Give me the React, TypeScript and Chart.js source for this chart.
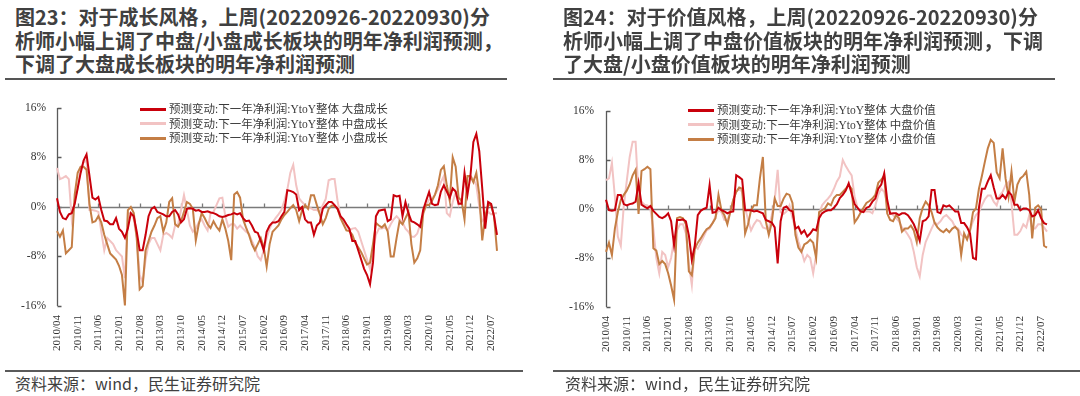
import React, { useEffect, useRef } from 'react';
import { Chart, registerables } from 'chart.js';

Chart.register(...registerables);

// ---------- categories (monthly, 2010/04 .. 2022/09) ----------
const START_YEAR = 2010;
const START_MONTH = 4;
const N_MONTHS = 150;
const MONTHS: string[] = [];
for (let i = 0; i < N_MONTHS; i++) {
  const t = START_MONTH - 1 + i;
  const y = START_YEAR + Math.floor(t / 12);
  const m = (t % 12) + 1;
  MONTHS.push(`${y}/${m < 10 ? '0' + m : m}`);
}

const TICK_LABELS = [
  '2010/04', '2010/11', '2011/06', '2012/01', '2012/08', '2013/03', '2013/10', '2014/05',
  '2014/12', '2015/07', '2016/02', '2016/09', '2017/04', '2017/11', '2018/06', '2019/01',
  '2019/08', '2020/03', '2020/10', '2021/05', '2021/12', '2022/07',
];
const Y_TICKS = [16, 8, 0, -8, -16];

// ---------- series (%) ----------
const growthLarge = [
  1.4, -0.8, -1.8, -2.0, -1.2, -1.0, 0.5, 3.0, 5.5, 7.5,
  8.5, 5.0, 1.5, 1.2, 1.6, -0.5, -2.2, -2.3, -2.8, -2.8,
  -1.8, -3.5, -4.0, -5.0, -3.5, -1.0, -1.5, -4.0, -7.0, -7.0,
  -4.5, -1.5, -0.3, 0.0, -0.8, -1.0, -1.2, -1.5, -1.5, -0.8,
  -0.5, -1.2, -2.5, -2.0, -0.3, -0.2, -0.3, -0.6, -0.5, -0.8,
  -0.8, -0.7, -0.9, -1.0, -1.2, -1.5, -1.6, -1.5, -1.3, -1.2,
  -1.0, -1.2, -1.0, -1.8, -2.3, -2.2, -3.0, -4.0, -4.2, -5.5,
  -7.0, -4.0, -3.0, -2.5, -2.5, -2.3, -1.5, -0.8, 2.7, 2.6,
  2.4, 2.0, -0.5, 0.0, -2.0, -2.5, -2.5, -4.5, -3.0, -2.5,
  -0.3, 0.3, 0.8, 0.8, 0.3, -0.3, -1.5, -2.0, -2.8, -3.5,
  -5.5, -5.5, -7.0, -8.5, -10.0, -11.0, -12.5, -9.0, -1.5, -0.6,
  -0.5, -0.4, -2.3, -2.0, 1.9, 1.7, 1.8, -1.5, 0.8, -1.0,
  -2.3, -2.5, -2.8, -3.2, -0.5, 1.0, 2.4, 0.5, 0.3, 0.4,
  2.5, 3.5, 2.5, 1.5, 3.0, 2.5, 0.5, 0.5, 5.5, 2.0,
  5.0, 10.5, 11.8, 9.0, 3.0, -3.5, 0.8, 0.5, -1.5, -4.5,
];
const growthMid = [
  6.3, 4.5, 4.7, 5.0, 4.5, -2.0, 1.0, 3.0, 6.0, 7.2,
  7.5, -0.5, -0.5, -0.6, -0.8, -4.0, -7.0, -5.0, -5.5, -6.0,
  -7.0, -7.5, -8.0, -11.5, -1.0, -1.0, -2.0, -5.0, -11.0, -12.2,
  -8.5, -6.0, -5.0, -5.0, -6.0, -7.0, -4.5, -4.2, -4.5, -5.0,
  -3.0, -2.8, -0.5, 1.9, -0.5, -3.0, -4.0, -3.5, -2.5, -2.0,
  -3.0, -3.8, -1.0, -0.8, 0.3, 1.4, 1.5, -1.5, -3.2, -2.8,
  -2.8, -3.5, -3.0, -3.5, -4.0, -4.3, -5.5, -6.5, -8.0, -8.6,
  -7.0, -5.0, -3.5, -2.5, -1.8, -1.2, -0.5, 1.0, 2.8, 5.5,
  6.8, 3.5, 1.4, 0.8, 0.3, -0.2, -0.2, -0.5, -0.5, -0.8,
  0.3, 1.3, 4.3, 4.5, 4.5, 1.0, -1.5, -2.5, -3.0, -3.8,
  -3.5, -3.4, -4.0, -5.5, -7.0, -8.5, -10.0, -7.0, -4.5, -3.5,
  -3.5, -3.3, -3.8, -2.8, -2.0, -1.5, -2.0, -2.5, -3.5, -4.0,
  -4.8, -4.8, -4.3, -2.8, -1.2, 0.3, 1.2, 1.3, 2.0, 2.8,
  4.0, 5.0, -1.0, -1.5, 0.8, 2.4, 0.3, 1.3, 4.0, 4.8,
  5.0, 4.5, 3.5, 0.0, -2.3, -1.8, -0.8, -1.2, -1.0, -1.0,
];
const growthSmall = [
  -3.9, -4.8, -3.8, -7.5, -7.0, -6.5, 2.0, 5.5, 6.5, 6.5,
  6.0, 0.5, -2.5, -2.3, -1.5, -2.5, -4.5, -6.0, -7.5, -8.0,
  -8.5, -9.5, -11.0, -15.9, -0.5, 0.0, -1.0, -5.0, -13.3, -12.8,
  -7.0, -5.5, -4.0, -3.0, -1.8, -1.5, -4.0, -2.5, 0.8, 1.4,
  -2.8, -3.2, -2.3, -0.8, 0.8, 0.5, -0.3, -5.4, -2.8, -1.0,
  -1.8, -2.8, -3.4, -2.3, -3.2, -3.8, -2.0, -3.5, -5.5, -8.6,
  2.0, 2.4, 1.5, -2.0, -3.3, -4.5, -6.0, -7.0, -6.0, -5.0,
  -6.5, -9.6, -6.0, -4.0, -3.5, -3.0, -2.0, -1.3, -0.8, -0.2,
  0.3, -0.5, -2.3, -0.5, 0.3, -0.3, 1.9, 1.9, 0.3, -1.2,
  -2.8, -1.8, -0.3, 0.2, 0.2, -0.3, -1.8, -2.8, -3.8, -3.9,
  -4.5, -5.8, -6.5, -7.3, -8.3, -9.3, -9.0, -6.0, -2.6, -3.0,
  -3.3, -2.8, -4.0, -8.0, -8.0, -5.0, -2.3, -2.8, -1.8, -0.8,
  -6.0, -9.0, -8.3, -7.0, -1.0, 0.3, 0.3, 1.0, 2.0, 3.5,
  6.0, 6.6, 3.5, 1.0, 8.0, 6.5, 1.5, 1.0, -2.0, 5.0,
  5.0, 4.0, 5.5, 2.0, -5.4, -1.5, 0.3, 0.3, -1.5, -7.1,
];
const valueLarge = [
  1.5, -0.2, -0.3, -0.2, 2.3, 2.3, 0.8, 0.6, 0.8, 0.9,
  1.2, 4.2, 0.7, 0.4, 0.1, 0.5, -0.3, -0.8, -1.3, -1.5,
  -1.2, -0.7, -2.0, -5.9, -1.8, -1.8, -1.7, -2.0, -4.3, -8.3,
  -6.0, -1.0, -0.3, 0.0, 0.2, 3.9, -0.6, -0.5, 0.2, -0.2,
  -0.4, -0.7, -0.5, -0.4, 5.5, 5.2, 4.8, -0.2, -0.2, -0.2,
  -0.4, -0.3, -0.5, -0.7, -1.8, -2.0, -2.2, -3.0, -8.9, -2.0,
  0.2, 0.4, -0.2, -0.4, -3.2, -2.9, -4.0, -3.5, -4.5, -4.0,
  -3.3, -3.5, -1.5, -0.7, -0.4, -0.2, -0.2, 0.2, 0.8, 1.8,
  2.3, 3.0, 4.2, 2.5, 0.8, 0.2, -0.4, -0.5, 0.2, 0.4,
  1.2, 1.7, 3.3, 4.0, 5.8, 1.5, -0.8, -0.7, -0.7, -1.0,
  -0.7, -0.7, -1.0, -1.7, -2.5, -3.7, -5.2, -2.0, -1.8, -1.2,
  3.1, 3.1, -0.5, -0.7, 0.6, 0.4, 0.6, 0.1, -0.4, -0.4,
  -2.3, -2.3, -3.0, -4.0, -8.0, -8.2, 0.2, 3.3, 3.3, 4.5,
  5.5, 3.5, 1.7, 1.7, 2.3, 1.7, 2.8, 2.3, 0.7, 0.7,
  -0.2, 0.1, 0.1, -0.2, -1.2, -1.0, -0.2, -1.5, -2.3, -2.5,
];
const valueMid = [
  4.7, 5.0, 7.5, 2.0, -4.5, -6.0, 0.5, 4.5, 8.5, 11.0,
  11.0, 2.3, 1.2, 0.7, 0.6, 0.0, -3.2, -8.0, -10.5, -7.0,
  -7.5, -9.5, -8.0, -5.0, -3.5, -2.5, -2.5, -4.0, -9.0, -12.4,
  -6.0, -6.5, -5.5, -4.5, -3.5, -3.2, -2.3, -1.2, -0.2, -0.5,
  -1.8, -1.8, -0.5, 1.5, 2.8, 3.3, 2.8, 0.2, -1.8, -3.5,
  -2.5, -1.8, -2.0, -3.0, -3.2, -3.2, -1.0, 1.5, 6.4, -0.5,
  -0.8, -0.4, 0.6, -1.5, -3.2, -5.3, -6.8, -8.5, -7.5, -8.0,
  -10.5, -7.5, -0.8, 0.6, 1.2, 1.7, 2.3, 3.3, 4.5, 5.3,
  8.0, 7.0, 6.2, 5.5, 2.0, 0.2, -0.4, -0.4, -0.4, -0.4,
  -0.7, 0.6, 2.3, 3.3, 2.8, 0.8, -0.5, -1.0, -1.5, -2.0,
  -3.0, -3.5, -4.2, -5.0, -7.0, -9.5, -11.0, -7.5, -5.4, -4.3,
  -3.2, -2.2, -2.5, -2.0, -1.3, -1.0, -1.5, -2.0, -3.0, -3.2,
  -4.2, -4.6, -4.6, -3.5, -2.0, -1.0, -0.5, 0.6, 1.6, 2.2,
  2.2, 1.2, 0.6, 2.2, 2.8, 3.9, 4.4, 1.0, -4.2, -4.2,
  -3.6, -2.5, -3.0, -1.0, -3.2, -3.2, -2.5, -2.5, -3.0, -3.7,
];
const valueSmall = [
  -7.0, -5.5, -7.5, -3.2, -0.5, 1.5, 2.3, 3.0, 4.0, 5.5,
  6.4, -0.8, 6.2, 6.5, 6.9, 6.5, -6.4, -6.8, -9.0, -8.5,
  -9.0, -10.5, -12.5, -14.8, -1.5, -1.3, -1.5, -2.5, -10.2, -10.8,
  -6.5, -5.5, -4.8, -4.0, -3.3, -3.0, -2.3, -1.5, 2.3, -0.2,
  -1.0, -2.5, -0.5, 1.5, 2.8, 3.5, 3.3, -4.0, -2.5, -0.2,
  0.6, 0.6, 5.0, 8.5, -2.0, -4.2, -2.2, 1.7, 0.5, 0.5,
  1.7, 2.5, 2.3, 1.0, -4.2, -6.3, -7.0, -5.8, -5.5, -5.0,
  -5.5, -8.0, -0.5, -0.2, 0.1, 0.9, 0.6, 1.8, 2.3, 2.3,
  2.8, 3.3, 3.9, 3.3, -2.2, -1.5, -0.6, 0.2, 1.0, 1.3,
  1.7, 2.3, 4.3, 4.8, 5.4, -0.7, -1.8, -2.0, -1.0, -1.5,
  -3.7, -3.2, -3.2, -2.7, -3.5, -5.4, -1.5, 0.2, 1.2, 0.6,
  -0.5, -2.2, -3.0, -3.5, -3.8, -3.3, -3.8, -3.2, -2.9, -3.5,
  -7.5, -4.0, -5.0, -3.5, -0.5, 0.1, 3.3, 5.4, 7.7, 9.9,
  11.3, 10.8, 6.0, 5.0, 9.9, 5.0, 2.0, 6.1, 1.2, 4.0,
  5.0, 5.4, 6.1, 2.3, -4.8, 0.2, 0.6, 0.0, -6.0, -6.3,
];

// ---------- text ----------
const GROWTH_TITLE = [
  '图23：对于成长风格，上周(20220926-20220930)分',
  '析师小幅上调了中盘/小盘成长板块的明年净利润预测，',
  '下调了大盘成长板块的明年净利润预测',
];
const VALUE_TITLE = [
  '图24：对于价值风格，上周(20220926-20220930)分',
  '析师小幅上调了中盘价值板块的明年净利润预测，下调',
  '了大盘/小盘价值板块的明年净利润预测',
];
const SOURCE = '资料来源：wind，民生证券研究院';
const LEGEND_PREFIX = '预测变动:下一年净利润:YtoY整体 ';
const GROWTH_NAMES = ['大盘成长', '中盘成长', '小盘成长'];
const VALUE_NAMES = ['大盘价值', '中盘价值', '小盘价值'];

const COLORS = ['#C9000B', '#F2C3C3', '#C47E45'];
const ORDERS = [0, 2, 1];

const TEXT_DARK = '#404040';
const AXIS_COLOR = '#5a5a5a';
const SERIF = "'Liberation Serif', 'Times New Roman', 'Noto Sans CJK SC', serif";
const SANS_CJK = "'Noto Sans CJK SC', 'Noto Sans', sans-serif";

const axisDeco = {
  id: 'axisDeco',
  beforeDatasetsDraw(chart: any) {
    const { ctx, chartArea, scales } = chart;
    const xs = scales.x;
    const ys = scales.y;
    ctx.save();
    ctx.strokeStyle = AXIS_COLOR;
    ctx.lineWidth = 1.3;
    const ax = Math.round(chartArea.left) + 0.5;
    ctx.beginPath();
    ctx.moveTo(ax, ys.getPixelForValue(16));
    ctx.lineTo(ax, ys.getPixelForValue(-16));
    Y_TICKS.forEach((v) => {
      const py = Math.round(ys.getPixelForValue(v)) + 0.5;
      ctx.moveTo(ax, py);
      ctx.lineTo(ax + 4, py);
    });
    ctx.stroke();
    const zy = Math.round(ys.getPixelForValue(0)) + 0.5;
    ctx.strokeStyle = '#7a7a7a';
    ctx.beginPath();
    ctx.moveTo(chartArea.left, zy);
    ctx.lineTo(chartArea.right, zy);
    MONTHS.forEach((lab, i) => {
      if (i > 0 && TICK_LABELS.includes(lab)) {
        const px = Math.round(xs.getPixelForValue(i)) + 0.5;
        ctx.moveTo(px, zy);
        ctx.lineTo(px, zy - 4);
      }
    });
    ctx.stroke();
    ctx.restore();
  },
};

type PanelProps = {
  left: number;
  title: string[];
  names: string[];
  series: number[][];
  titleX: number;
  ruleX1: number;
  ruleX2: number;
  footRuleX2: number;
  footX: number;
  legendX: number;
  legendY: number;
  plotLeft: number;
  plotTop: number;
  plotRight: number;
  plotBottom: number;
  yPad: number;
};

const CANVAS_TOP = 90;
const CANVAS_W = 540;
const CANVAS_H = 270;

function Panel(p: PanelProps) {
  const ref = useRef<HTMLCanvasElement | null>(null);
  useEffect(() => {
    if (!ref.current) return;
    const chart = new Chart(ref.current, {
      type: 'line',
      data: {
        labels: MONTHS,
        datasets: p.series.map((s, i) => ({
          label: LEGEND_PREFIX + p.names[i],
          data: s,
          borderColor: COLORS[i],
          backgroundColor: COLORS[i],
          borderWidth: 2,
          pointRadius: 0,
          tension: 0,
          fill: false,
          order: ORDERS[i],
        })),
      },
      options: {
        responsive: false,
        animation: false,
        events: [],
        layout: {
          padding: {
            left: 0,
            top: p.plotTop - CANVAS_TOP,
            right: CANVAS_W - (p.plotRight - p.left),
            bottom: 0,
          },
        },
        plugins: { legend: { display: false }, tooltip: { enabled: false } },
        scales: {
          x: {
            type: 'category',
            grid: { display: false, drawTicks: false },
            border: { display: false },
            ticks: {
              autoSkip: false,
              minRotation: 90,
              maxRotation: 90,
              padding: 9,
              color: '#333333',
              font: { family: SERIF, size: 11 },
              callback: (_v: any, i: number) => (TICK_LABELS.includes(MONTHS[i]) ? MONTHS[i] : null),
            },
            afterFit: (s: any) => {
              s.height = CANVAS_H - (p.plotBottom - CANVAS_TOP);
            },
          },
          y: {
            min: -16,
            max: 16,
            grid: { display: false, drawTicks: false },
            border: { display: false },
            ticks: {
              stepSize: 8,
              padding: p.yPad,
              color: '#333333',
              font: { family: SERIF, size: 11.5 },
              callback: (v: any) => `${v}%`,
            },
            afterFit: (s: any) => {
              s.width = p.plotLeft - p.left;
            },
          },
        },
      },
      plugins: [axisDeco],
    });
    return () => chart.destroy();
  }, []);

  const rowGap = 14.5;
  return (
    <div style={{ position: 'absolute', left: 0, top: 0, width: 1080, height: 396 }}>
      {p.title.map((t, i) => (
        <div
          key={i}
          style={{
            position: 'absolute',
            left: p.titleX,
            top: 5 + i * 23.5,
            height: 24,
            lineHeight: '24px',
            fontFamily: SANS_CJK,
            fontWeight: 700,
            fontSize: 20,
            color: TEXT_DARK,
            whiteSpace: 'nowrap',
          }}
        >
          {t}
        </div>
      ))}
      <div style={{ position: 'absolute', left: p.ruleX1, top: 78, width: p.ruleX2 - p.ruleX1, height: 2, background: '#555555' }} />
      <canvas
        ref={ref}
        width={CANVAS_W}
        height={CANVAS_H}
        style={{ position: 'absolute', left: p.left, top: CANVAS_TOP, width: CANVAS_W, height: CANVAS_H }}
      />
      {p.names.map((n, i) => (
        <div
          key={n}
          style={{
            position: 'absolute',
            left: p.legendX,
            top: p.legendY + i * rowGap - 8,
            height: 16,
            display: 'flex',
            alignItems: 'center',
            whiteSpace: 'nowrap',
          }}
        >
          <span style={{ display: 'inline-block', width: 26, height: 3, background: COLORS[i], marginRight: 3 }} />
          <span style={{ fontFamily: SERIF, fontSize: 11.5, color: '#3a3a3a', lineHeight: '16px' }}>
            {LEGEND_PREFIX + n}
          </span>
        </div>
      ))}
      <div style={{ position: 'absolute', left: p.ruleX1, top: 369.5, width: p.footRuleX2 - p.ruleX1, height: 2, background: '#5a5a5a' }} />
      <div
        style={{
          position: 'absolute',
          left: p.footX,
          top: 373,
          height: 20,
          lineHeight: '20px',
          fontFamily: SANS_CJK,
          fontSize: 16,
          color: TEXT_DARK,
          whiteSpace: 'nowrap',
        }}
      >
        {SOURCE}
      </div>
    </div>
  );
}

export default function App() {
  return (
    <div
      style={{
        position: 'absolute',
        left: 0,
        top: 0,
        width: 1080,
        height: 396,
        background: '#ffffff',
        overflow: 'hidden',
      }}
    >
      <Panel
        left={0}
        title={GROWTH_TITLE}
        names={GROWTH_NAMES}
        series={[growthLarge, growthMid, growthSmall]}
        titleX={15}
        ruleX1={5}
        ruleX2={507}
        footRuleX2={523}
        footX={15}
        legendX={140}
        legendY={109}
        plotLeft={57}
        plotTop={102}
        plotRight={497}
        plotBottom={306}
        yPad={11}
      />
      <Panel
        left={540}
        title={VALUE_TITLE}
        names={VALUE_NAMES}
        series={[valueLarge, valueMid, valueSmall]}
        titleX={563}
        ruleX1={553}
        ruleX2={1055}
        footRuleX2={1080}
        footX={565}
        legendX={688}
        legendY={110}
        plotLeft={606}
        plotTop={111}
        plotRight={1047}
        plotBottom={307}
        yPad={12}
      />
    </div>
  );
}
